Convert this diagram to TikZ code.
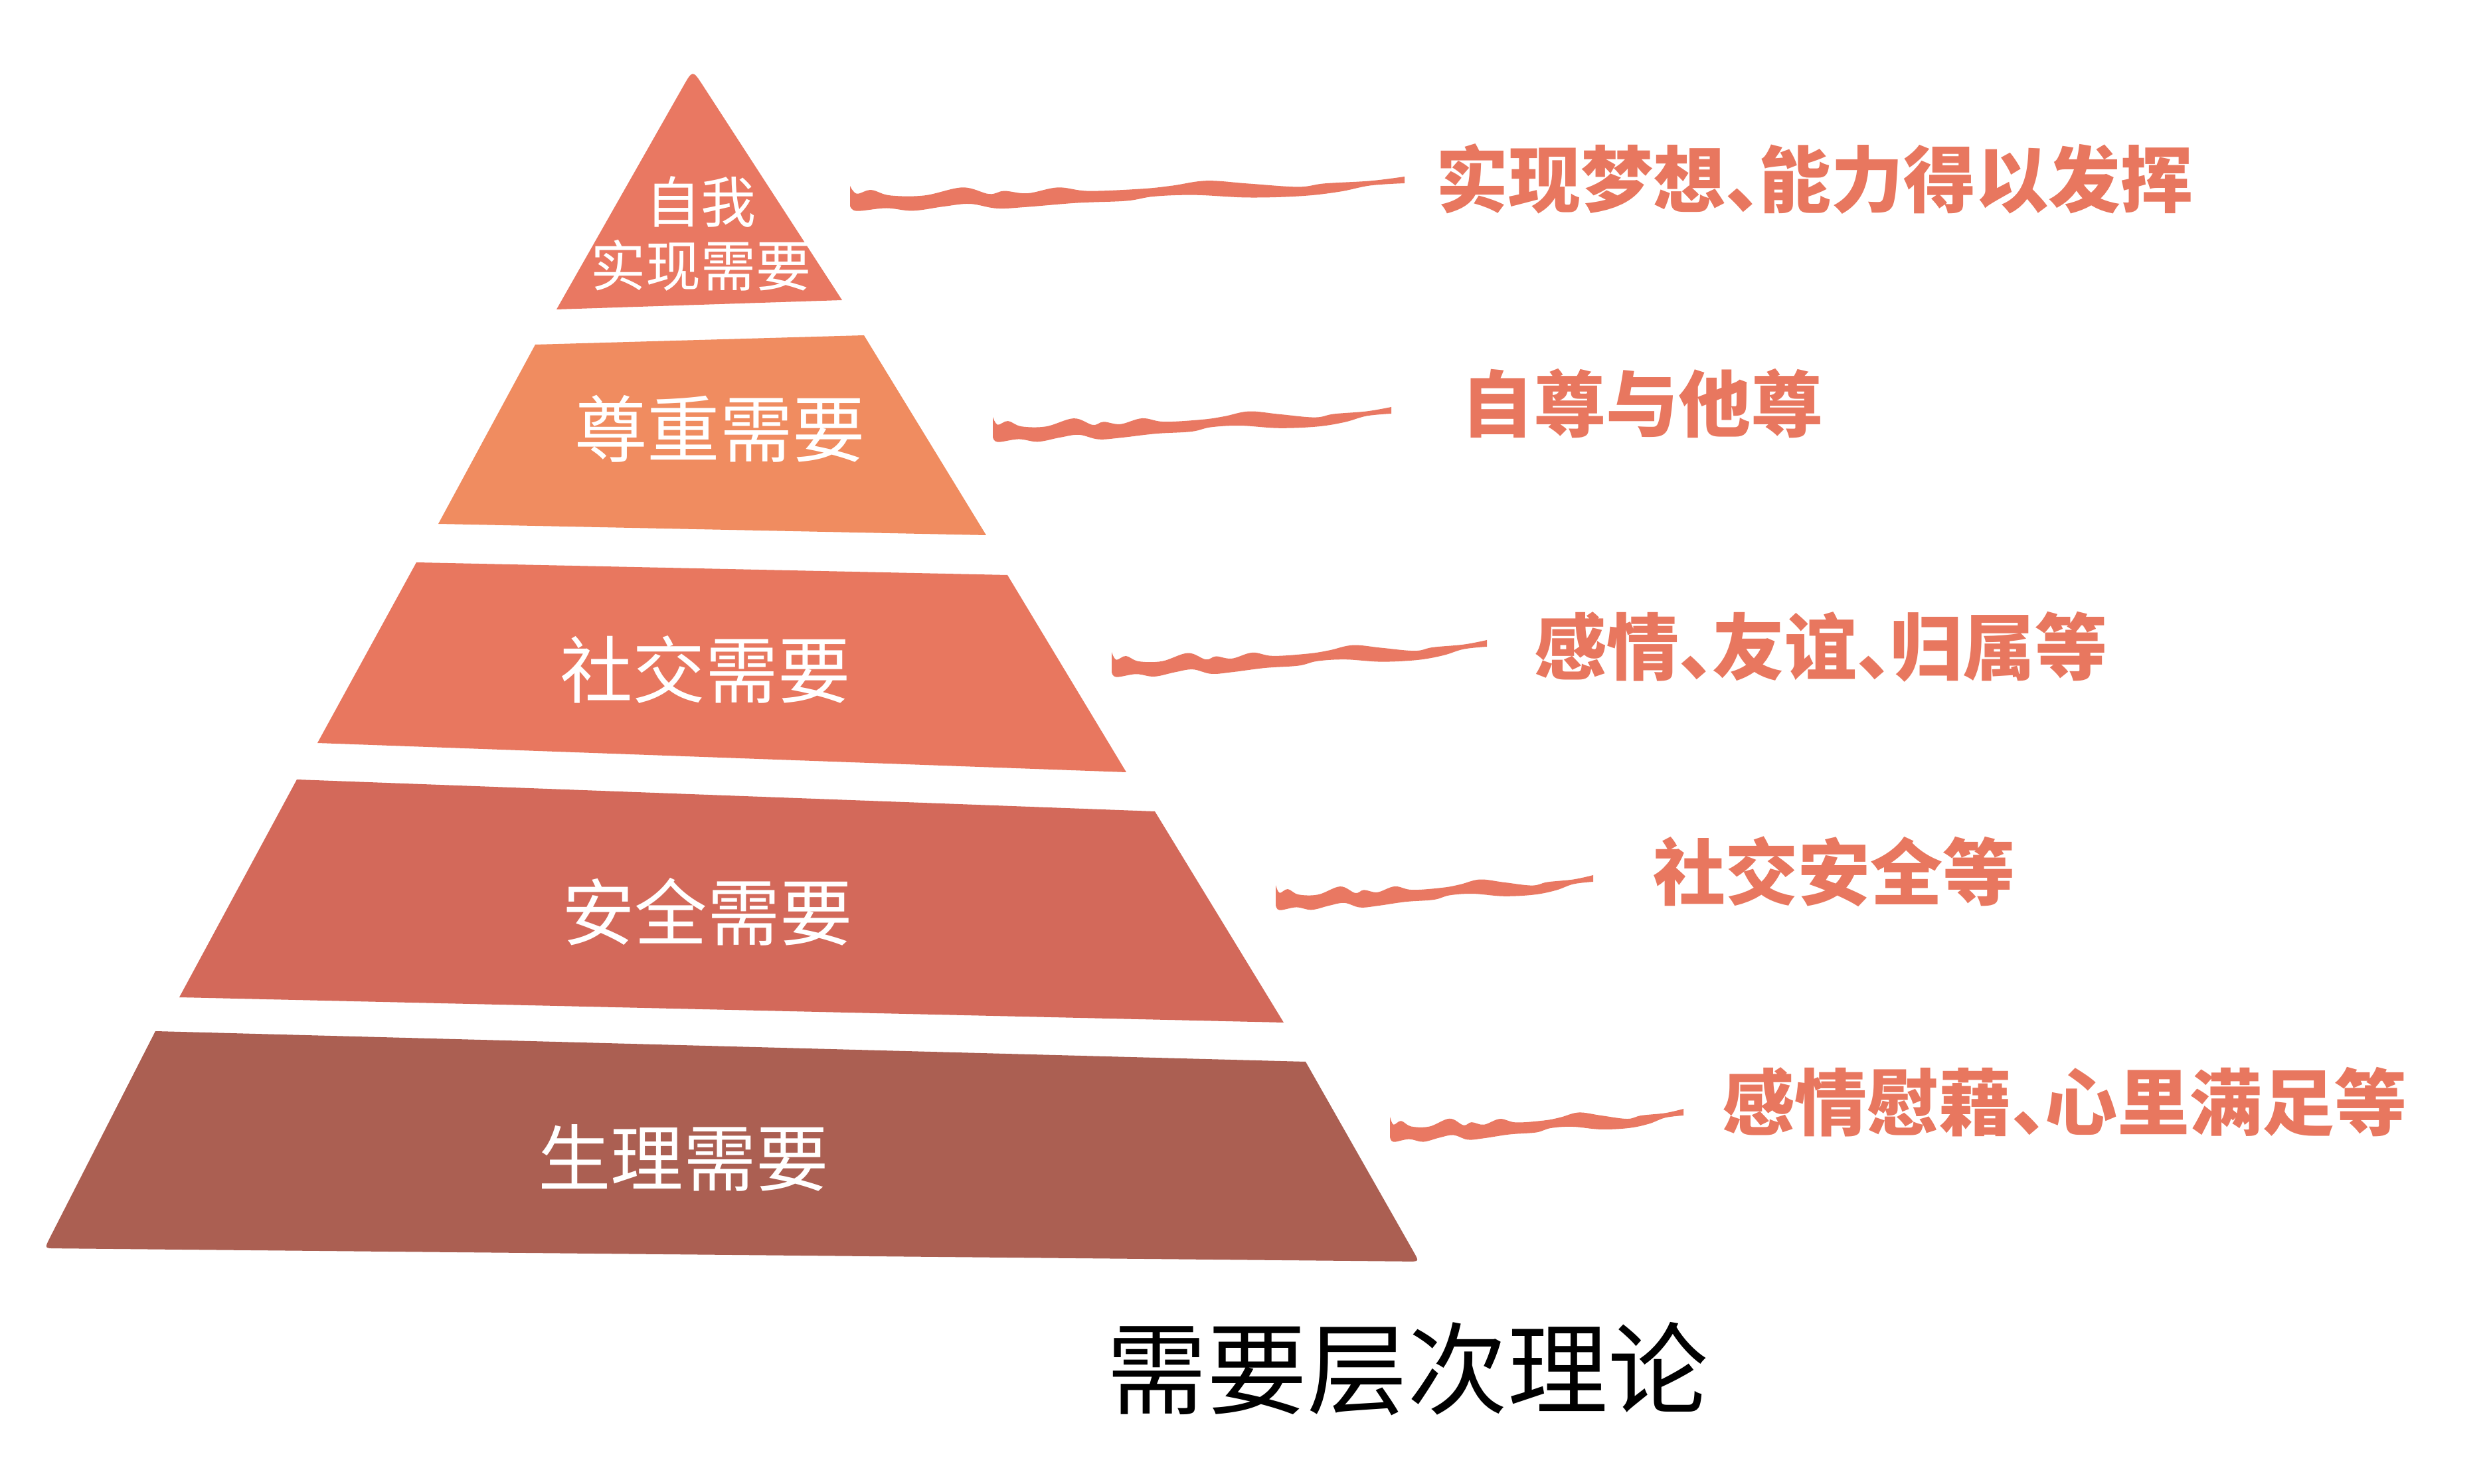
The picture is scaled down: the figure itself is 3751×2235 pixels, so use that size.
\documentclass[tikz,border=0pt]{standalone}
\usepackage{fontspec}
\newfontfamily\cjk{Noto Sans CJK SC}
\usetikzlibrary{calc}
\definecolor{cone}{HTML}{E97862}
\definecolor{ctwo}{HTML}{F08C60}
\definecolor{cthree}{HTML}{E8775F}
\definecolor{cfour}{HTML}{D3695A}
\definecolor{cfive}{HTML}{AB5F52}
\definecolor{labcol}{HTML}{E8775F}
\definecolor{brushcol}{HTML}{E97862}
\newcommand\dunhao{、\hspace{-0.54em}}
\newcommand\brushstroke[4]{%
  \pgfmathsetmacro\bsx{(#3-#1)*0.2}%
  \pgfmathsetmacro\bsy{(#2-#4)*0.2}%
  \begin{scope}[shift={(#1,#2)}, x={(\bsx pt,\bsy pt)}, y={(0pt,-0.2pt)}]
    \fill[brushcol] plot[smooth, tension=0.6] coordinates {(0,-24) (0.012,-12) (0.038,-17) (0.072,-8) (0.134,-6.5) (0.203,-17) (0.251,-6) (0.278,-10) (0.32,-5.5) (0.375,-13) (0.43,-6.5) (0.526,-7.5) (0.581,-11) (0.643,-17) (0.718,-11) (0.808,-4) (0.856,-8) (0.938,-10) (1,-15)}
      -- plot[smooth, tension=0.6] coordinates {(1,-5) (0.938,-3) (0.883,5) (0.814,10) (0.718,10) (0.622,4) (0.548,4.5) (0.498,10) (0.409,11) (0.32,15) (0.265,16) (0.216,8) (0.168,11) (0.113,16) (0.065,11) (0.012,14) (0,6)} -- cycle;
  \end{scope}}
\begin{document}
\begin{tikzpicture}[x=0.2pt,y=-0.2pt,
  every node/.style={inner sep=0pt},
  lvl/.style={text=white, font=\cjk\fontsize{21.9}{25}\selectfont},
  toplbl/.style={text=white, align=center, font=\cjk\fontsize{16.6}{19.2}\selectfont},
  side/.style={text=labcol, anchor=west, font=\cjk\bfseries\fontsize{21.8}{25}\selectfont},
  ttl/.style={text=black, font=\cjk\fontsize{30.2}{34}\selectfont}]
\useasboundingbox (0,0) rectangle (3751,2235);
\fill[white] (0,0) rectangle (3751,2235);
% level 1 (top triangle)
\coordinate (ap) at (1043,105);
\coordinate (abl) at (838,466);
\coordinate (abr) at (1268,452);
\fill[cone] (abl) -- ($(ap)!0.07!(abl)$) .. controls (ap) .. ($(ap)!0.07!(abr)$) -- (abr) -- cycle;
% level 2
\fill[ctwo] (806,519) -- (1301,505) -- (1485,806) -- (660,789) -- cycle;
% level 3
\fill[cthree] (627,847) -- (1517,866) -- (1696,1163) -- (478,1119) -- cycle;
% level 4
\fill[cfour] (447,1174) -- (1739,1222) -- (1933,1540) -- (270,1502) -- cycle;
% level 5
\coordinate (ftl) at (234,1553);
\coordinate (ftr) at (1966,1599);
\coordinate (fbr) at (2137,1900);
\coordinate (fbl) at (67,1880);
\fill[cfive] (ftl) -- (ftr) -- ($(fbr)!0.05!(ftr)$) .. controls (fbr) .. ($(fbr)!0.008!(fbl)$)
  -- ($(fbl)!0.008!(fbr)$) .. controls (fbl) .. ($(fbl)!0.05!(ftl)$) -- cycle;
% level labels
\node[toplbl] (t1) at (1055,352) {自我\\实现需要};
\node[lvl] (t2) at (1084,646) {尊重需要};
\node[lvl] (t3) at (1062,1009) {社交需要};
\node[lvl] (t4) at (1065,1373) {安全需要};
\node[lvl] (t5) at (1029,1744) {生理需要};
% brush strokes
\brushstroke{1280}{304}{2115}{281}
\brushstroke{1495}{652}{2095}{628}
\brushstroke{1674}{1006}{2239}{979}
\brushstroke{1921}{1357}{2399}{1333}
\brushstroke{2093}{1706}{2535}{1685}
% side labels
\node[side] (s1) at (2161,270) {实现梦想\dunhao 能力得以发挥};
\node[side] (s2) at (2199,608) {自尊与他尊};
\node[side] (s3) at (2309,974) {感情\dunhao 友谊\dunhao 归属等};
\node[side] (s4) at (2488,1313) {社交安全等};
\node[side] (s5) at (2592,1660) {感情慰藉\dunhao 心里满足等};
% title
\node[ttl] (title) at (2119,2062) {需要层次理论};
\end{tikzpicture}
\end{document}
